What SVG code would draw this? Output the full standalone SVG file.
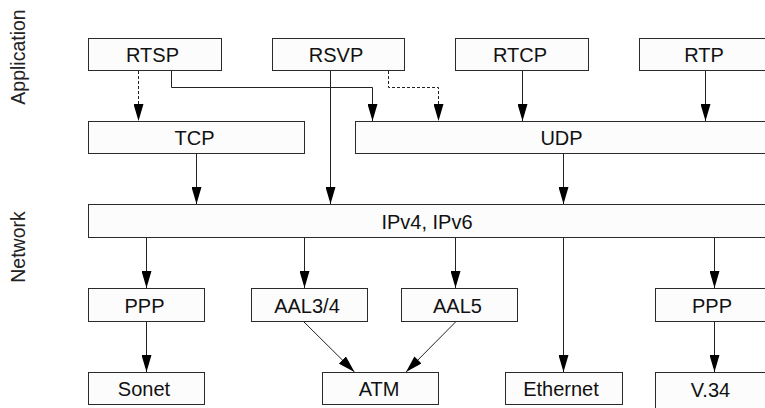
<svg xmlns="http://www.w3.org/2000/svg" width="765" height="408" viewBox="0 0 765 408">
<style>
.box{fill:#fcfcfc;stroke:#2a2a2a;stroke-width:1}
.lbl{font-family:"Liberation Sans",Arial,sans-serif;font-size:20px;fill:#111;text-anchor:middle}
.side{font-family:"Liberation Sans",Arial,sans-serif;font-size:19.5px;fill:#222;text-anchor:middle}
.c{fill:none;stroke:#222;stroke-width:1;marker-end:url(#ah)}
.d{stroke-dasharray:3,2}
</style>
<defs>
<marker id="ah" viewBox="0 0 17 10" refX="17" refY="5" markerWidth="17" markerHeight="10" markerUnits="userSpaceOnUse" orient="auto">
<path d="M0,0 L17,5 L0,10 Z" fill="#000"/>
</marker>
</defs>
<text class="side" transform="translate(25,57) rotate(-90)">Application</text>
<text class="side" transform="translate(25,247) rotate(-90)">Network</text>
<g id="connectors">
<path class="c d" d="M138.5,71 V121"/>
<path class="c" d="M171.5,71 V87.5 H372.5 V121"/>
<path class="c" d="M330.5,71 V204"/>
<path class="c d" d="M388.5,71 V87.5 H438.5 V121"/>
<path class="c" d="M522.5,71 V121"/>
<path class="c" d="M705.5,71 V121"/>
<path class="c" d="M196.5,154 V204"/>
<path class="c" d="M563.5,154 V204"/>
<path class="c" d="M146.5,238 V288"/>
<path class="c" d="M304.5,238 V288"/>
<path class="c" d="M455.5,238 V288"/>
<path class="c" d="M563.5,238 V372"/>
<path class="c" d="M714.5,238 V288"/>
<path class="c" d="M146.5,322 V372"/>
<path class="c" d="M714.5,322 V372"/>
<path class="c" d="M304,322 L354.5,372"/>
<path class="c" d="M455.5,322 L406,372"/>
</g>
<g id="rtsp"><rect class="box" x="88.5" y="38.5" width="133" height="32"/><text class="lbl" x="152.5" y="62">RTSP</text></g>
<g id="rsvp"><rect class="box" x="272.5" y="38.5" width="132" height="32"/><text class="lbl" x="336" y="62">RSVP</text></g>
<g id="rtcp"><rect class="box" x="455.5" y="38.5" width="133" height="32"/><text class="lbl" x="520" y="62">RTCP</text></g>
<g id="rtp"><rect class="box" x="639.5" y="38.5" width="135" height="32"/><text class="lbl" x="704" y="62">RTP</text></g>
<g id="tcp"><rect class="box" x="88.5" y="121.5" width="216" height="32"/><text class="lbl" x="194.5" y="145">TCP</text></g>
<g id="udp"><rect class="box" x="355.5" y="121.5" width="420" height="32"/><text class="lbl" x="561.5" y="145">UDP</text></g>
<g id="ip"><rect class="box" x="88.5" y="204.5" width="690" height="33"/><text class="lbl" x="427" y="228.5">IPv4, IPv6</text></g>
<g id="ppp1"><rect class="box" x="88.5" y="288.5" width="116" height="33"/><text class="lbl" x="144.5" y="312.5">PPP</text></g>
<g id="aal34"><rect class="box" x="251.5" y="288.5" width="116" height="33"/><text class="lbl" x="307" y="312.5">AAL3/4</text></g>
<g id="aal5"><rect class="box" x="401.5" y="288.5" width="116" height="33"/><text class="lbl" x="457.5" y="312.5">AAL5</text></g>
<g id="ppp2"><rect class="box" x="655.5" y="288.5" width="120" height="33"/><text class="lbl" x="712" y="312.5">PPP</text></g>
<g id="sonet"><rect class="box" x="88.5" y="372.5" width="116" height="32"/><text class="lbl" x="144" y="396">Sonet</text></g>
<g id="atm"><rect class="box" x="322.5" y="372.5" width="116" height="32"/><text class="lbl" x="379" y="396">ATM</text></g>
<g id="ethernet"><rect class="box" x="505.5" y="372.5" width="117" height="32"/><text class="lbl" x="561" y="396">Ethernet</text></g>
<g id="v34"><rect class="box" x="655.5" y="372.5" width="120" height="45"/><text class="lbl" x="710.5" y="397">V.34</text></g>
</svg>
